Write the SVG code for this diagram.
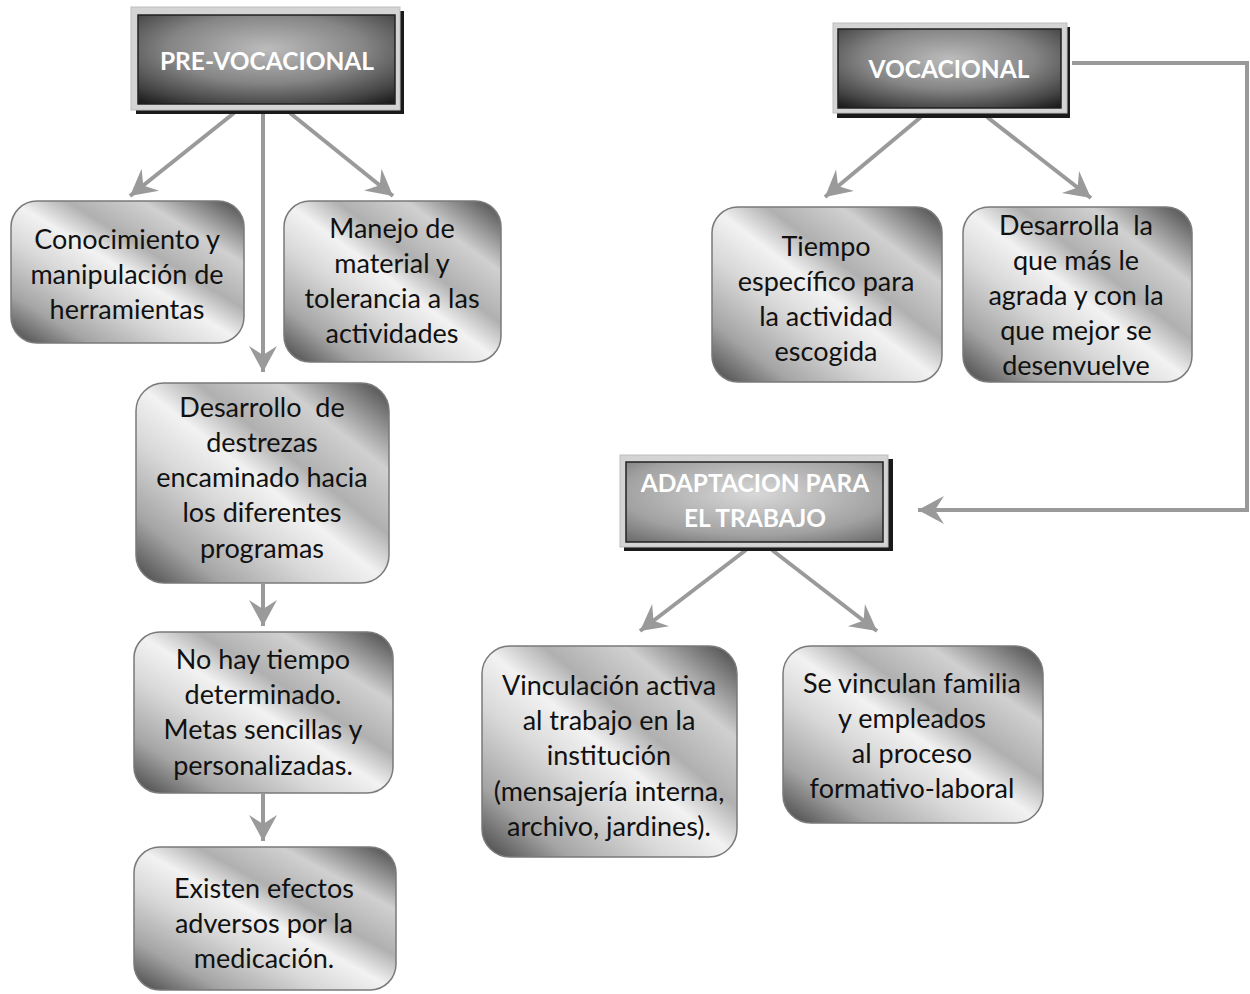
<svg xmlns="http://www.w3.org/2000/svg" width="1250" height="994" viewBox="0 0 1250 994">
<defs>
<linearGradient id="metal" x1="0" y1="1" x2="1" y2="0">
<stop offset="0" stop-color="#444"/>
<stop offset="0.17" stop-color="#a4a4a4"/>
<stop offset="0.36" stop-color="#d8d8d8"/>
<stop offset="0.5" stop-color="#f2f2f2"/>
<stop offset="0.62" stop-color="#b0b0b0"/>
<stop offset="0.78" stop-color="#d0d0d0"/>
<stop offset="1" stop-color="#444"/>
</linearGradient>
<radialGradient id="dark" cx="0.5" cy="0.38" r="0.85">
<stop offset="0" stop-color="#bcbcbc"/>
<stop offset="0.45" stop-color="#858585"/>
<stop offset="0.75" stop-color="#454545"/>
<stop offset="1" stop-color="#050505"/>
</radialGradient>
<radialGradient id="mid" cx="0.5" cy="0.4" r="0.85">
<stop offset="0" stop-color="#d8d8d8"/>
<stop offset="0.6" stop-color="#a2a2a2"/>
<stop offset="1" stop-color="#5a5a5a"/>
</radialGradient>
<marker id="ah" viewBox="-27 -15 29 30" refX="0" refY="0" markerWidth="29" markerHeight="30" markerUnits="userSpaceOnUse" orient="auto">
<path d="M0,0 L-26,-14 L-17,0 L-26,14 Z" fill="#9a9a9a"/>
</marker>
</defs>
<style>
.box{fill:url(#metal);stroke:#7a7a7a;stroke-width:1.5}
.t{font-family:Lato,"Liberation Sans",sans-serif;font-size:27px;fill:#111;text-anchor:middle}
.h{font-family:Lato,"Liberation Sans",sans-serif;font-size:24.5px;font-weight:bold;fill:#fff;text-anchor:middle}
.frame{fill:#d4d4d4;stroke:#bdbdbd;stroke-width:1}
.shadow{fill:#1a1a1a}
.inner{stroke:#222;stroke-width:1.5}
.c{fill:none;stroke:#9a9a9a;stroke-width:4}
</style>
<rect width="1250" height="994" fill="#fff"/>

<g id="connectors">
<line class="c" x1="234" y1="113" x2="130" y2="196" marker-end="url(#ah)"/>
<line class="c" x1="290" y1="113" x2="393" y2="196" marker-end="url(#ah)"/>
<line class="c" x1="263" y1="113" x2="263" y2="372" marker-end="url(#ah)"/>
<line class="c" x1="263" y1="584" x2="263" y2="626" marker-end="url(#ah)"/>
<line class="c" x1="263" y1="794" x2="263" y2="841" marker-end="url(#ah)"/>
<line class="c" x1="921" y1="117" x2="825" y2="197" marker-end="url(#ah)"/>
<line class="c" x1="987" y1="117" x2="1091" y2="198" marker-end="url(#ah)"/>
<line class="c" x1="746" y1="550" x2="640" y2="631" marker-end="url(#ah)"/>
<line class="c" x1="772" y1="550" x2="877" y2="631" marker-end="url(#ah)"/>
<polyline class="c" points="1072,63 1247,63 1247,510 918,510" marker-end="url(#ah)"/>
</g>

<g id="pre-vocacional">
<rect class="shadow" x="136" y="11" width="268" height="103"/>
<rect class="frame" x="131" y="7" width="269" height="103"/>
<rect class="inner" x="138" y="15" width="257" height="89" fill="url(#dark)"/>
<text class="h" x="267" y="70">PRE-VOCACIONAL</text>
</g>

<g id="vocacional">
<rect class="shadow" x="837" y="27" width="233" height="91"/>
<rect class="frame" x="833" y="23" width="234" height="90"/>
<rect class="inner" x="838" y="29" width="223" height="79" fill="url(#dark)"/>
<text class="h" x="949" y="78">VOCACIONAL</text>
</g>

<g id="adaptacion">
<rect class="shadow" x="624" y="459" width="269" height="92"/>
<rect class="frame" x="620" y="455" width="268" height="92"/>
<rect class="inner" x="626" y="462" width="257" height="80" fill="url(#mid)"/>
<text class="h" x="755" y="492">ADAPTACION PARA</text>
<text class="h" x="755" y="527">EL TRABAJO</text>
</g>

<g id="conocimiento">
<rect class="box" x="11" y="201" width="233" height="142" rx="26"/>
<text class="t" x="127" y="249">Conocimiento y</text>
<text class="t" x="127" y="284">manipulación de</text>
<text class="t" x="127" y="319">herramientas</text>
</g>

<g id="manejo">
<rect class="box" x="284" y="201" width="217" height="161" rx="26"/>
<text class="t" x="392" y="238">Manejo de</text>
<text class="t" x="392" y="273">material y</text>
<text class="t" x="392" y="308">tolerancia a las</text>
<text class="t" x="392" y="343">actividades</text>
</g>

<g id="desarrollo-destrezas">
<rect class="box" x="136" y="383" width="253" height="200" rx="28"/>
<text class="t" x="262" y="417">Desarrollo&#160; de</text>
<text class="t" x="262" y="452">destrezas</text>
<text class="t" x="262" y="487">encaminado hacia</text>
<text class="t" x="262" y="522">los diferentes</text>
<text class="t" x="262" y="558">programas</text>
</g>

<g id="no-hay-tiempo">
<rect class="box" x="134" y="632" width="259" height="161" rx="26"/>
<text class="t" x="263" y="669">No hay tiempo</text>
<text class="t" x="263" y="704">determinado.</text>
<text class="t" x="263" y="739">Metas sencillas y</text>
<text class="t" x="263" y="775">personalizadas.</text>
</g>

<g id="existen-efectos">
<rect class="box" x="134" y="847" width="262" height="143" rx="26"/>
<text class="t" x="264" y="898">Existen efectos</text>
<text class="t" x="264" y="933">adversos por la</text>
<text class="t" x="264" y="968">medicación.</text>
</g>

<g id="tiempo-especifico">
<rect class="box" x="712" y="207" width="230" height="175" rx="26"/>
<text class="t" x="826" y="256">Tiempo</text>
<text class="t" x="826" y="291">específico para</text>
<text class="t" x="826" y="326">la actividad</text>
<text class="t" x="826" y="361">escogida</text>
</g>

<g id="desarrolla">
<rect class="box" x="963" y="207" width="229" height="175" rx="26"/>
<text class="t" x="1076" y="235">Desarrolla&#160; la</text>
<text class="t" x="1076" y="270">que más le</text>
<text class="t" x="1076" y="305">agrada y con la</text>
<text class="t" x="1076" y="340">que mejor se</text>
<text class="t" x="1076" y="375">desenvuelve</text>
</g>

<g id="vinculacion">
<rect class="box" x="482" y="646" width="255" height="211" rx="28"/>
<text class="t" x="609" y="695">Vinculación activa</text>
<text class="t" x="609" y="730">al trabajo en la</text>
<text class="t" x="609" y="765">institución</text>
<text class="t" x="609" y="801">(mensajería interna,</text>
<text class="t" x="609" y="836">archivo, jardines).</text>
</g>

<g id="se-vinculan">
<rect class="box" x="783" y="646" width="260" height="177" rx="28"/>
<text class="t" x="912" y="693">Se vinculan familia</text>
<text class="t" x="912" y="728">y empleados</text>
<text class="t" x="912" y="763">al proceso</text>
<text class="t" x="912" y="798">formativo-laboral</text>
</g>
</svg>
